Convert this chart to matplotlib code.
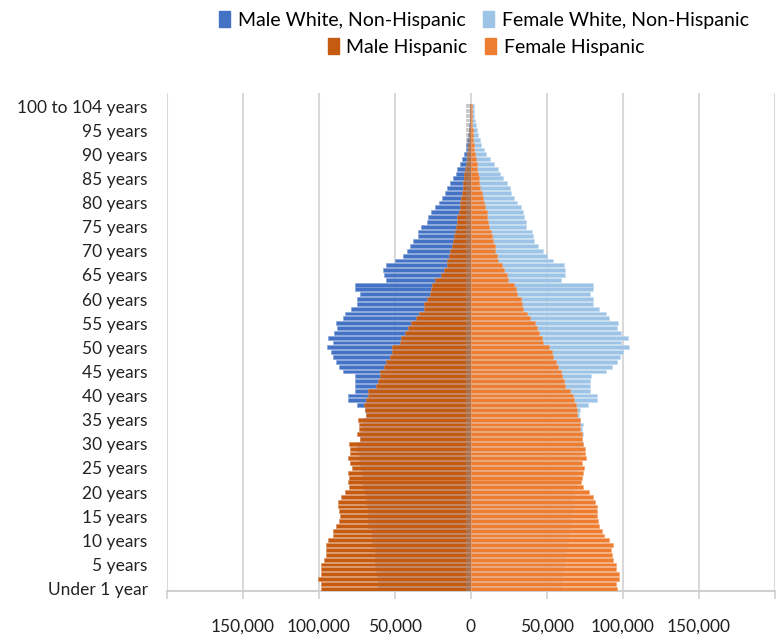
import matplotlib
matplotlib.use("Agg")
import matplotlib.pyplot as plt
from matplotlib.patches import Patch

plt.rcParams['font.family'] = ['Lato', 'DejaVu Sans']

# single-year ages, under 1 .. 99, then 100 to 104 (thousands of people)
ages = ["Under 1 year"] + [f"{a} years" if a > 1 else f"{a} year" for a in range(1, 100)] + ["100 to 104 years"]

male_white = [61, 61, 61, 62, 63, 63, 63, 63, 63, 65,
              65, 65, 65, 68, 68, 68, 68, 68, 69, 69,
              70, 71, 72, 72, 72, 73, 73, 74, 74, 75,
              75, 73, 73, 72, 73, 71, 69, 70, 75, 81,
              81, 76, 76, 76, 76, 84, 87, 89, 91, 92,
              95, 91, 94, 90, 88, 89, 84, 83, 79, 75,
              75, 73, 76, 76, 56, 57, 58, 56, 50, 45,
              42, 40, 38, 35, 35, 33, 29, 28, 26, 24,
              21, 19, 17, 16, 14, 12, 10, 9, 7.4, 5.6,
              4.7, 3.5, 3.0, 2.4, 1.9, 1.4, 1.1, 0.8, 0.6, 0.4,
              0.6]
female_white = [59, 59, 60, 60, 61, 61, 62, 62, 62, 63,
                64, 64, 65, 65, 66, 66, 67, 67, 67, 68,
                68, 69, 69, 70, 70, 70, 71, 71, 72, 72,
                74, 73, 74, 73, 74, 72, 71, 72, 77, 83,
                83, 78, 78, 78, 79, 89, 93, 96, 98, 100,
                104, 99, 103, 99, 96, 97, 91, 89, 84, 80,
                80, 78, 80, 80, 59, 62, 62, 61, 54, 50,
                47.5, 44, 41.3, 41, 40, 36.5, 36.5, 34.7, 34.3, 32.6,
                30, 28.2, 26, 25.5, 23.5, 21, 19, 17.5, 15, 12.5,
                10, 8.7, 6.9, 6.2, 4.6, 4.0, 3.6, 2.6, 2.3, 1.9,
                1.9]
male_hisp = [98.4, 98.4, 100.5, 98.4, 98.4, 98.4, 96.4, 95.7, 95.3, 95.3,
             94.2, 90.7, 90.7, 89.1, 87, 86.3, 87, 87.6, 87.6, 85.4,
             83, 80.4, 80.8, 80.4, 80.8, 78.2, 79.3, 81, 79.7, 79.3,
             80.4, 73.2, 74.9, 73.8, 73.8, 74.2, 69.4, 70, 70.5, 69,
             67.9, 67.9, 62.8, 61.3, 60, 60, 57.4, 56.2, 53.4, 52.3,
             51.8, 46.8, 45.9, 43.1, 41.6, 39.4, 35.9, 34.3, 31, 30.6,
             28.8, 27, 26.6, 25.5, 23.4, 19.6, 17.9, 16, 15.7, 14.5,
             13.5, 12.5, 12, 11, 10.5, 10, 9.5, 9, 8, 7.5,
             7, 6.5, 6, 5.5, 5, 4.8, 4.3, 3.8, 3.3, 2.8,
             2.5, 2.0, 1.8, 1.5, 1.2, 1.0, 0.8, 0.6, 0.5, 0.4,
             0.5]
female_hisp = [96.2, 95.1, 97.2, 97.2, 95.5, 95.1, 93.5, 92.9, 91.8, 93.3,
               91.1, 87.8, 86.3, 84.5, 83.7, 83, 83, 83, 81.9, 80.1,
               77.5, 73.8, 72.5, 73.1, 73.8, 74.2, 73.1, 75.8, 75.3, 75,
               74, 73, 73, 72, 72, 72, 70, 70, 69, 68,
               67, 65, 62, 61, 60, 59, 57, 56, 54, 53,
               51.2, 47.5, 46.8, 44.9, 43.5, 42, 38.7, 37, 34.3, 33.7,
               32.6, 30.4, 29.3, 28.2, 24.5, 23.4, 21.6, 20.5, 17.9, 17.2,
               16.1, 15.5, 14.6, 13.9, 13.3, 11.7, 11.1, 10.6, 10.2, 9.5,
               8.5, 8, 7.3, 6.2, 5.5, 5, 4.5, 4, 3.7, 3.2,
               2.5, 2.2, 1.8, 1.5, 1.2, 1.0, 0.8, 0.6, 0.5, 0.4,
               0.5]
male_other = [3.6] * 101

fig = plt.figure(figsize=(7.77, 6.34), dpi=100)
ax = fig.add_axes([167 / 777, 1 - 591 / 634, 608 / 777, 498 / 634])

y = list(range(len(ages)))
h = 0.8
k = 1000
ax.barh(y, [-v * k for v in male_white], height=h, color='#4472C4', edgecolor='#7FA0DA', linewidth=0.4, zorder=2)
ax.barh(y, [v * k for v in female_white], height=h, color='#9DC3E6', edgecolor='#C3DBF0', linewidth=0.4, zorder=2)
ax.barh(y, [-v * k for v in male_hisp], height=h, color='#C55A11', edgecolor='#DA8A55', linewidth=0.4, zorder=3)
ax.barh(y, [v * k for v in female_hisp], height=h, color='#ED7D31', edgecolor='#F5A570', linewidth=0.4, zorder=3)
ax.barh(y, [-v * k for v in male_other], height=h, color='#8C8C8C', alpha=0.45, linewidth=0, zorder=4)

ax.set_xlim(-200000, 200000)
ax.set_ylim(-0.5, 102.7)
ticks = list(range(-200000, 200001, 50000))
ax.set_xticks(ticks)
ax.set_xticklabels(['' if abs(t) == 200000 else f"{abs(t):,}" for t in ticks], fontsize=12.5, color='#222222')
ax.set_yticks(y[::5])
ax.set_yticklabels(ages[::5], fontsize=12.5, color='#222222')
ax.tick_params(axis='y', length=0, pad=14)
ax.tick_params(axis='x', length=6, width=1.2, color='#D0D0D0', pad=14)
ax.grid(axis='x', color='#D9D9D9', linewidth=1.5, zorder=0)
ax.set_axisbelow(True)
for s in ['top', 'right', 'left']:
    ax.spines[s].set_visible(False)
ax.spines['bottom'].set_color('#D0D0D0')
ax.spines['bottom'].set_linewidth(1.5)

row1 = [Patch(color='#4472C4', label='Male White, Non-Hispanic'),
        Patch(color='#9DC3E6', label='Female White, Non-Hispanic')]
row2 = [Patch(color='#C55A11', label='Male Hispanic'),
        Patch(color='#ED7D31', label='Female Hispanic')]
kw = dict(ncol=2, frameon=False, fontsize=14, handlelength=0.55, handleheight=0.9,
          handletextpad=0.4, columnspacing=0.9, borderaxespad=0, loc='center')
fig.legend(handles=row1, bbox_to_anchor=(484 / 777, 1 - 20 / 634), **kw)
fig.legend(handles=row2, bbox_to_anchor=(486 / 777, 1 - 47 / 634), **kw)

fig.savefig('out.png', dpi=100)
